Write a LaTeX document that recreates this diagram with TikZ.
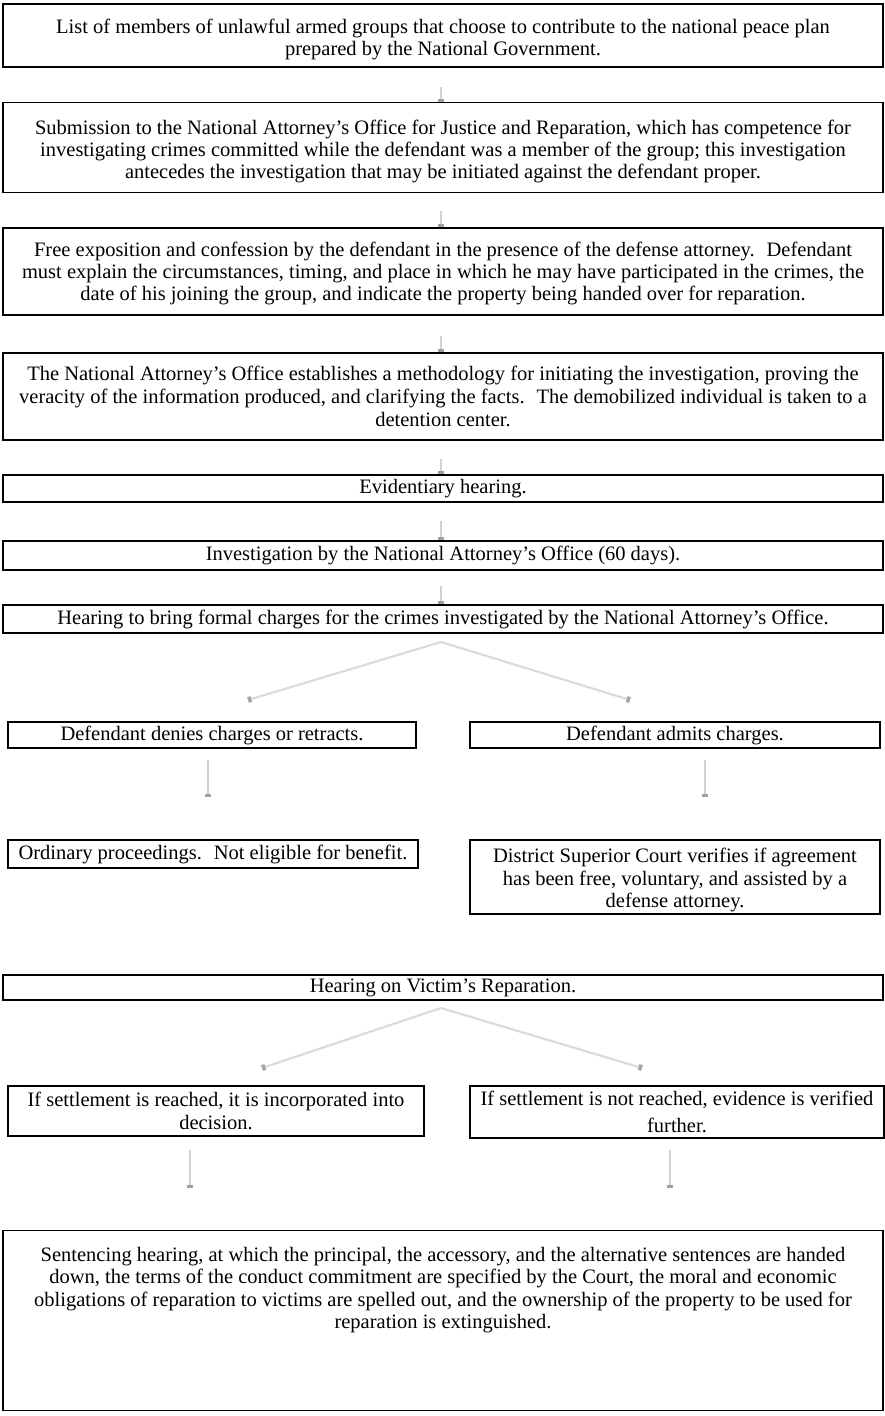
\documentclass[tikz,border=0pt]{standalone}
\usepackage{fontspec}
\setmainfont{Liberation Serif}
\usetikzlibrary{arrows.meta}
\begin{document}
\begin{tikzpicture}[x=1pt,y=-1pt,
  box/.style={draw=black, line width=1.3pt, inner sep=0pt, align=center,
    font=\fontsize{20.5}{22.8}\selectfont},
  txt/.style={inner sep=0pt, align=center, font=\fontsize{20.5}{22.3}\selectfont},
  arr/.style={draw=gray!35, line width=1.8pt,
    -{Rectangle[length=3pt,width=5.5pt,color=gray!75]}},
  link/.style={draw=gray!28, line width=2.2pt,
    -{Rectangle[length=3.5pt,width=6pt,color=gray!70]}}
]
\useasboundingbox (0,0) rectangle (885,1416);

% main column
\node[box, minimum width=880, minimum height=63] (b1) at (443,35.5) {};
\node[txt] (b1t) at ([yshift=-4pt]b1.center)
 {List of members of unlawful armed groups that choose to contribute to the national peace plan\\prepared by the National Government.};
\node[box, minimum width=880, minimum height=90] (b2) at (443,147.5) {};
\node[txt] (b2t) at ([yshift=-4pt]b2.center)
 {Submission to the National Attorney’s Office for Justice and Reparation, which has competence for\\investigating crimes committed while the defendant was a member of the group; this investigation\\antecedes the investigation that may be initiated against the defendant proper.};
\node[box, minimum width=880, minimum height=87] (b3) at (443,271.5) {};
\node[txt] (b3t) at ([yshift=-2pt]b3.center)
 {Free exposition and confession by the defendant in the presence of the defense attorney.~ Defendant\\must explain the circumstances, timing, and place in which he may have participated in the crimes, the\\date of his joining the group, and indicate the property being handed over for reparation.};
\node[box, minimum width=880, minimum height=87] (b4) at (443,396.5)
 {The National Attorney’s Office establishes a methodology for initiating the investigation, proving the\\veracity of the information produced, and clarifying the facts.~ The demobilized individual is taken to a\\detention center.};
\node[box, minimum width=880, minimum height=27] (b5) at (443,488.5) {Evidentiary hearing.};
\node[box, minimum width=880, minimum height=29] (b6) at (443,555.5) {Investigation by the National Attorney’s Office (60 days).};
\node[box, minimum width=880, minimum height=28] (b7) at (443,619) {Hearing to bring formal charges for the crimes investigated by the National Attorney’s Office.};

\draw[arr] ([xshift=-2pt,yshift=-19pt]b1.south) -- ([xshift=-2pt]b2.north);
\draw[arr] ([xshift=-2pt,yshift=-18pt]b2.south) -- ([xshift=-2pt]b3.north);
\draw[arr] ([xshift=-2pt,yshift=-20pt]b3.south) -- ([xshift=-2pt]b4.north);
\draw[arr] ([xshift=-2pt,yshift=-18pt]b4.south) -- ([xshift=-2pt]b5.north);
\draw[arr] ([xshift=-2pt,yshift=-18pt]b5.south) -- ([xshift=-2pt]b6.north);
\draw[arr] ([xshift=-2pt,yshift=-15pt]b6.south) -- ([xshift=-2pt]b7.north);

% first branch
\coordinate (s1) at (441,642);
\coordinate (t1l) at (248,700);
\coordinate (t1r) at (630,700);
\draw[link] (s1) -- (t1l);
\draw[link] (s1) -- (t1r);

\node[box, minimum width=408, minimum height=26] (b8l) at (212,735) {Defendant denies charges or retracts.};
\node[box, minimum width=410, minimum height=26] (b8r) at (675,735) {Defendant admits charges.};

\coordinate (u1) at (208,760); \coordinate (v1) at (208,797);
\coordinate (u2) at (705,760); \coordinate (v2) at (705,797);
\draw[arr] (u1) -- (v1);
\draw[arr] (u2) -- (v2);

\node[box, minimum width=410, minimum height=28] (b9l) at (213,854) {Ordinary proceedings.~ Not eligible for benefit.};
\node[box, minimum width=410, minimum height=74] (b9r) at (675,877) {};
\node[txt] (b9rt) at ([yshift=-3pt]b9r.center)
 {District Superior Court verifies if agreement\\has been free, voluntary, and assisted by a\\defense attorney.};

\node[box, minimum width=880, minimum height=25] (b10) at (443,987.5) {Hearing on Victim’s Reparation.};

% second branch
\coordinate (s2) at (441,1008);
\coordinate (t2l) at (262,1068);
\coordinate (t2r) at (642,1068);
\draw[link] (s2) -- (t2l);
\draw[link] (s2) -- (t2r);

\node[box, minimum width=416, minimum height=50] (b11l) at (216,1111)
 {If settlement is reached, it is incorporated into\\decision.};
\node[box, minimum width=414, minimum height=52] (b11r) at (677,1112)
 {If settlement is not reached, evidence is verified\\[4pt]further.};

\coordinate (u3) at (190,1150); \coordinate (v3) at (190,1188);
\coordinate (u4) at (670,1150); \coordinate (v4) at (670,1188);
\draw[arr] (u3) -- (v3);
\draw[arr] (u4) -- (v4);

\node[box, minimum width=880, minimum height=180, anchor=north] (b12) at (443,1230) {};
\node[txt, anchor=north] (b12t) at ([yshift=-17pt]b12.north)
 {Sentencing hearing, at which the principal, the accessory, and the alternative sentences are handed\\down, the terms of the conduct commitment are specified by the Court, the moral and economic\\obligations of reparation to victims are spelled out, and the ownership of the property to be used for\\reparation is extinguished.};
\end{tikzpicture}
\end{document}
